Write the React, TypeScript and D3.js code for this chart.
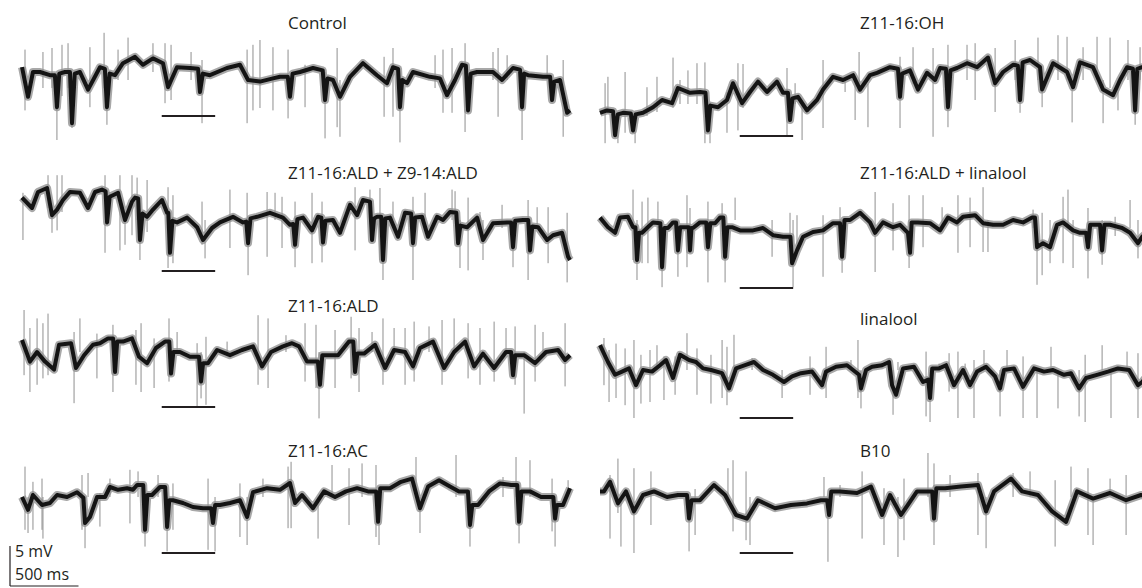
import React from "react";
import * as d3 from "d3";

const WIDTH = 1142;
const HEIGHT = 588;
const DURATION = 4000; // ms shown per sweep
const STIMULUS = [1020, 1410]; // ms, the stimulus bar under each sweep
const SCALE_MV = 5;
const SCALE_MS = 500;
const PX_PER_MS = 0.137;
const PX_PER_MV = 8;
const FONT = "'Open Sans', 'Noto Sans', sans-serif";
const INK = "#231f20";

type Pt = [number, number]; // [ms, mV]
type Spike = [number, number, number]; // [ms, top mV, bottom mV]

// slow membrane potential
const controlBase: Pt[] = [[0,1.6],[44,-2.1],[80,1.0],[131,1.0],[204,0.6],[240,0.6],[255,-3.4],[272,0.8],[314,1.0],[350,1.0],[365,-5.4],[385,0.8],[423,1.0],[482,-1.2],[569,1.6],[605,1.4],[620,-3.4],[640,0.8],[679,0.6],[737,2.1],[825,2.9],[883,1.9],[956,2.7],[1029,2.1],[1066,-0.9],[1131,1.6],[1226,1.5],[1285,1.4],[1299,-1.5],[1320,0.8],[1372,0.6],[1496,1.5],[1591,1.9],[1650,0],[1737,-0.2],[1832,0.2],[1883,0.4],[1940,0.4],[1956,-2.1],[1975,0.8],[2029,1.0],[2124,1.5],[2195,1.2],[2212,-2.5],[2230,0.2],[2270,0],[2321,-2.1],[2394,0.4],[2489,2.1],[2591,0.6],[2664,-0.4],[2708,1.6],[2745,1.4],[2759,-3.4],[2775,0],[2810,-0.4],[2854,1.0],[2978,0.4],[3051,0.2],[3102,-1.9],[3161,0],[3212,1.9],[3240,1.8],[3256,-3.8],[3275,0.8],[3321,1.0],[3438,1.0],[3504,0],[3584,1.5],[3635,1.3],[3650,-3.4],[3665,0.8],[3694,0.6],[3803,0.4],[3855,0.4],[3869,-2.5],[3885,-0.2],[3927,0],[3979,-4.1],[4000,-3.8]];
const controlSpikes: Spike[] = [[22,3.8,-3.8],[153,3.5,-1],[219,4.0,-1],[255,0,-7.5],[292,4.4,-2],[336,4.6,-1],[365,0,-6],[496,4.1,-3.4],[599,5.9,-1],[620,0,-5.6],[701,3.8,0],[774,5.3,0],[956,4.6,1],[1044,4.6,-2.9],[1088,4.4,-2.5],[1234,3.5,0],[1314,2.5,-5.4],[1643,3.8,-5.4],[1686,4.4,-3.8],[1737,5.0,-3.5],[1832,4.1,-3.8],[1942,3.8,-4.8],[2066,1.9,-3.4],[2212,1.0,-7.3],[2300,4.0,-5.9],[2321,0,-7.1],[2643,2.9,-4.6],[2708,4.0,-4.6],[2759,-2,-7.8],[3015,3.1,-1],[3073,3.8,-4.1],[3139,4.0,-4.1],[3234,4.6,-6.5],[3438,3.5,0],[3475,4.0,-4.6],[3541,3.1,0],[3650,-2,-7.5],[3833,3.1,0],[3950,2.5,-7.1]];

const ohBase: Pt[] = [[0,-4.1],[51,-3.8],[95,-3.9],[110,-6.9],[130,-4.3],[168,-4.1],[225,-4.2],[241,-6.3],[260,-4.3],[314,-4.1],[387,-3.4],[453,-2.5],[526,-2.9],[569,-1.0],[657,-1.6],[730,-1.5],[770,-1.6],[788,-6.3],[805,-3.2],[861,-3.4],[927,-2.5],[971,-0.4],[1037,-2.9],[1095,-1.5],[1153,-0.2],[1219,-1.5],[1292,-0.2],[1336,-1.6],[1372,-1.6],[1387,-5.0],[1405,-2.3],[1445,-2.1],[1511,-3.8],[1584,-2.5],[1628,-1.2],[1701,0.4],[1774,0],[1847,0.6],[1898,-1.2],[1971,0.6],[2022,0.9],[2117,1.6],[2175,1.4],[2190,-2.1],[2205,0.8],[2263,1.2],[2321,-1.2],[2387,0.9],[2446,0],[2482,1.5],[2525,1.4],[2540,-3.4],[2558,1.2],[2606,1.5],[2679,2.1],[2752,1.6],[2832,2.8],[2884,-0.4],[2942,1.0],[3015,1.9],[3050,1.8],[3066,-2.5],[3085,2.2],[3139,2.5],[3212,1.6],[3227,-1.2],[3307,2.1],[3409,1.0],[3453,-0.9],[3504,2.2],[3599,1.6],[3672,-1.2],[3745,-1.9],[3796,0],[3847,1.6],[3890,1.4],[3906,-3.8],[3922,1.4],[3957,1.6],[4000,1.2]];
const ohSpikes: Spike[] = [[37,-0.4,-7.9],[58,0.4,-4],[131,-4,-7.9],[183,1.0,-6.6],[256,-4,-7.9],[343,-0.9,-4.5],[416,0.4,-4],[533,2.8,-3.5],[584,0,-3],[642,1.2,-3],[708,2.1,-3],[766,2.2,-7.9],[803,-4,-7.9],[927,-1.5,-6.6],[1007,2.1,-6.3],[1044,2.0,-3.5],[1365,1.5,-7.1],[1424,-0.4,-3],[1475,-2.5,-7.5],[1628,2.5,-6.0],[1789,0.4,-1.5],[1862,-0.5,-5],[1891,3.5,-1.5],[1956,-0.5,-5.9],[2190,2.9,-6.0],[2285,4.1,-0.5],[2431,4.0,-7.1],[2540,4.4,-5.9],[2679,4.4,0],[2738,4.6,-2.5],[2884,4.0,-4.0],[3030,5.0,0],[3066,0,-4.1],[3197,5.3,0],[3227,0,-3.4],[3343,5.6,0],[3409,5.4,0],[3446,0,-5.3],[3526,4.1,0],[3628,5.4,0],[3672,0,-5.4],[3723,5.3,-1],[3781,0,-3.8],[3854,5.0,0],[3906,0,-5.6],[3942,4.1,0]];

const blendBase: Pt[] = [[0,2.8],[73,1.5],[117,3.5],[183,4.0],[219,0.6],[256,1.3],[299,2.5],[350,3.5],[423,3.4],[482,1.5],[533,3.5],[584,3.8],[610,3.6],[621,-0.3],[640,2.9],[664,3.1],[701,3.4],[752,0],[803,2.3],[825,2.8],[848,2.7],[861,-2.5],[880,0.8],[913,0.4],[956,1.3],[1022,2.5],[1059,0.9],[1068,0.9],[1080,-4.1],[1098,-0.1],[1132,-0.3],[1205,0.3],[1278,-0.9],[1321,-2.5],[1387,-1.0],[1445,-0.3],[1540,0.4],[1613,-0.3],[1637,-0.2],[1650,-2.9],[1668,0.2],[1716,0.4],[1810,0.9],[1905,0.3],[1956,-0.6],[1980,-0.5],[1993,-3.1],[2010,0.1],[2051,0.3],[2117,-1.3],[2161,0.4],[2185,0.3],[2197,-2.8],[2215,-0.1],[2270,0],[2321,-1.6],[2394,1.9],[2446,0.6],[2489,2.5],[2540,2.3],[2555,-2.5],[2570,0.2],[2592,0.4],[2622,0.4],[2635,-5.0],[2652,0.2],[2686,0.3],[2745,-2.1],[2796,0.9],[2840,0.8],[2854,-2.9],[2870,0.3],[2920,0.4],[2964,-2.1],[3030,0.4],[3073,0],[3124,1.0],[3170,0.9],[3183,-2.9],[3200,-0.7],[3249,-0.9],[3322,0.3],[3365,-2.5],[3438,-0.4],[3541,-0.3],[3570,-0.3],[3584,-3.4],[3600,-0.1],[3657,0],[3695,0],[3708,-3.8],[3725,-0.8],[3767,-0.9],[3833,-2.5],[3876,-1.9],[3942,-1.6],[3986,-4.6],[4000,-5.0]];
const blendSpikes: Spike[] = [[7,3.4,-2.5],[190,5.6,1.5],[219,1,-1.6],[256,5.6,-1.3],[292,5.6,1],[606,5.6,-4.1],[715,5.6,-3.8],[752,1,-3.1],[803,5.6,-1.9],[840,5.3,0],[861,0,-5.0],[913,5.0,-1.5],[1066,4.1,-6.0],[1102,3.1,-5.4],[1314,2.3,-3.1],[1336,0,-4.8],[1518,3.8,-3.5],[1643,3.4,-1],[1650,0,-6.9],[1789,3.5,-4.6],[1847,3.4,0],[1898,2.9,-3.5],[1993,2.3,-5.9],[2117,3.4,-5.4],[2190,2.3,-5.3],[2431,4.1,-3.8],[2540,3.8,0],[2613,4.0,-5.0],[2635,0,-7.5],[2708,2.3,0],[2854,2.9,-7.5],[2942,3.4,0],[3139,3.8,0],[3161,3.6,0],[3197,0,-6.0],[3256,2.8,-6.3],[3343,1.0,-1.5],[3365,0,-5.0],[3504,1.9,-1],[3584,0,-5.9],[3694,2.5,-7.5],[3760,1.6,-1],[3840,1.6,-5.4],[3979,0.9,-7.8]];

const aldLinBase: Pt[] = [[0,0.3],[58,-0.9],[110,-1.6],[146,0.3],[204,0.4],[241,-0.9],[258,-0.9],[270,-5.0],[285,-1.6],[307,-1.6],[343,-1.0],[387,-0.3],[440,-0.4],[453,-5.9],[470,-1.0],[496,-1.0],[533,-0.3],[555,-0.3],[569,-3.8],[585,-0.9],[635,-0.9],[648,-0.9],[657,-3.8],[668,-1.0],[679,-1.0],[730,-0.3],[775,-0.3],[788,-3.4],[805,-0.4],[840,-0.4],[876,0.3],[900,0.3],[913,-4.6],[930,-0.9],[964,-0.9],[1022,-1.3],[1117,-1.3],[1190,-1.0],[1263,-1.9],[1336,-2.1],[1390,-2.1],[1402,-5.4],[1438,-3.8],[1482,-2.1],[1555,-1.5],[1628,-1.3],[1701,-0.4],[1752,-0.4],[1767,-4.6],[1785,0],[1825,0],[1898,0.9],[1971,-0.3],[2008,-1.6],[2066,-0.3],[2139,-0.9],[2190,-0.6],[2248,-1.6],[2263,-4.1],[2275,-0.3],[2321,-0.3],[2409,-0.4],[2482,-1.3],[2540,0.3],[2606,-0.3],[2650,0.4],[2738,0.6],[2796,-0.4],[2869,-0.6],[2942,-0.6],[3015,0],[3088,-0.3],[3154,0.3],[3175,0.3],[3190,-3.4],[3234,-2.9],[3285,-3.4],[3336,-0.6],[3380,-0.3],[3453,-1.3],[3504,-1.6],[3548,-1.6],[3562,-3.4],[3578,-0.6],[3599,-0.6],[3650,-0.6],[3665,-3.8],[3682,-0.6],[3723,-0.6],[3811,-1.0],[3869,-1.6],[3927,-2.9],[3957,-2.1],[4000,-1.5]];
const aldLinSpikes: Spike[] = [[241,3.8,-5.0],[270,0,-7.5],[307,2.3,-5.4],[350,2.8,-5.4],[423,2.3,-1],[453,0,-8.4],[569,0,-7.1],[635,3.1,-5.9],[657,1.5,-1],[788,2.3,-7.8],[891,2.1,0],[913,0,-7.8],[986,2.8,0],[1256,0,-4.6],[1387,0.9,-2],[1409,0,-8.4],[1438,0.6,-3],[1628,0.6,-7.1],[1752,1.6,-1],[1767,0,-6.6],[2008,3.5,-6.5],[2139,2.1,-3.8],[2256,3.1,-6.0],[2358,3.1,-3.4],[2497,1.6,-1],[2613,3.1,-4.1],[2701,2.8,-3.4],[2796,4.1,-4.0],[2832,0,-4.0],[3161,1.3,-1],[3190,0,-8.1],[3227,0.9,-6.9],[3285,0,-5.4],[3380,2.9,-5.4],[3416,3.8,-1],[3453,0,-6.0],[3562,1.5,-7.3],[3665,0,-5.6],[3760,0.4,-2],[3869,2.5,-1],[3927,0,-4.8]];

const aldBase: Pt[] = [[0,1.5],[58,-1.2],[110,0],[168,-1.2],[234,-2.2],[270,0.9],[358,1.1],[394,-2.0],[453,-0.4],[518,0.9],[569,1.1],[628,1.7],[665,1.7],[679,-2.5],[695,1.3],[737,1.3],[803,1.7],[854,-0.6],[913,-1.4],[978,0.5],[1044,1.3],[1075,1.3],[1088,-2.7],[1105,0],[1153,0],[1226,-0.6],[1292,-0.6],[1307,-3.7],[1322,-1.4],[1358,-1.4],[1424,0.25],[1518,-0.4],[1606,0.25],[1686,0.7],[1752,-1.8],[1818,0],[1905,0.7],[1971,1.1],[2022,0.7],[2081,-1.2],[2160,-1.2],[2175,-4.1],[2192,-0.4],[2227,-0.4],[2307,-0.4],[2387,1.3],[2418,1.3],[2431,-2.5],[2448,-0.2],[2497,-0.2],[2577,0.9],[2650,-2.0],[2716,0.25],[2796,0],[2854,-1.8],[2905,0.5],[3000,1.3],[3081,-2.0],[3154,0],[3234,1.3],[3300,-1.8],[3365,-0.2],[3446,-2.0],[3533,0],[3570,0],[3584,-2.9],[3600,-0.4],[3665,-0.4],[3745,-1.4],[3825,0],[3913,0.25],[3964,-1.0],[4000,-0.4]];
const aldSpikes: Spike[] = [[15,5.25,-2.9],[58,3.0,-5.0],[110,4.2,-4.1],[153,3.6,-3.3],[190,4.8,-2.9],[380,2.5,-6.4],[423,4.2,0],[547,2.3,-3.3],[664,3.4,-5.0],[832,2.75,-4.1],[869,3.6,-5.0],[964,1.7,-4.5],[1073,4.2,-3.7],[1132,2.5,0],[1278,1.1,-6.8],[1307,0,-5.8],[1343,1.9,-6.6],[1497,1.3,0],[1723,4.6,-4.1],[1796,4.2,-4.5],[1927,2.1,0],[2066,3.6,-3.7],[2146,3.4,-4.5],[2168,0,-8.3],[2285,2.75,-4.5],[2402,4.4,-3.3],[2460,3.0,-5.0],[2555,2.5,0],[2635,4.2,-4.1],[2716,3.0,0],[2796,3.0,-4.1],[2862,3.8,-3.7],[2971,3.2,0],[3066,4.0,-4.1],[3154,4.2,0],[3256,3.6,-3.3],[3343,3.0,-4.1],[3446,3.8,-3.7],[3533,3.0,0],[3599,3.2,-4.1],[3665,0,-7.7],[3745,3.4,-3.7],[3803,2.5,0],[3964,3.6,-4.3]];

const linaloolBase: Pt[] = [[0,3.1],[58,1.0],[110,-0.6],[161,-0.2],[212,0.2],[263,-1.9],[314,0],[380,-0.2],[438,0.6],[482,1.25],[533,-1.0],[584,1.9],[650,1.25],[701,1.0],[752,0.2],[810,0],[891,-0.4],[942,-2.3],[993,0.2],[1059,0.6],[1124,1.0],[1190,0],[1263,-0.6],[1343,-1.5],[1402,-0.8],[1467,-0.4],[1548,-0.2],[1621,-1.9],[1650,-0.2],[1723,0.4],[1803,0.6],[1891,-0.6],[1905,-2.3],[1942,0],[1986,0.4],[2059,0.6],[2110,1.0],[2132,-1.9],[2161,-3.1],[2212,0.2],[2292,0.4],[2358,-1.5],[2396,-1.2],[2409,-3.5],[2425,0.2],[2475,0.2],[2526,0.6],[2584,-1.9],[2650,0],[2701,-1.9],[2752,-0.2],[2818,0.4],[2884,-0.8],[2920,-2.3],[2949,0],[3022,0.2],[3088,-2.1],[3168,0.2],[3241,-0.2],[3307,0],[3387,-0.6],[3438,-0.4],[3497,-2.3],[3548,-1.0],[3628,-0.6],[3708,-0.2],[3781,0.2],[3862,0],[3927,-1.9],[3957,-1.5],[4000,-0.6]];
const linaloolSpikes: Spike[] = [[29,4.0,-1.9],[66,2.5,-4.0],[117,3.3,-3.5],[183,2.7,-4.4],[248,3.75,-6.0],[299,1.9,-4.2],[365,2.5,-4.0],[416,3.1,0],[467,1.7,-3.75],[548,1.7,-3.1],[635,4.6,0],[708,2.7,-3.1],[810,1.9,-4.2],[891,3.75,-3.5],[927,2.9,-4.4],[978,4.4,0],[1110,1.5,0],[1329,0,-3.5],[1533,1.7,-3.1],[1650,2.9,-3.5],[1832,1.25,0],[1883,3.75,-3.5],[1905,0,-4.8],[2139,0,-5.6],[2175,1.0,0],[2292,0.6,0],[2380,2.3,-5.8],[2409,0,-6.5],[2475,0.8,0],[2548,2.1,-2.7],[2613,2.3,-6.0],[2665,0.8,0],[2730,1.25,-6.0],[2803,2.5,0],[2920,0,-5.8],[2971,2.5,0],[3088,1.7,-6.0],[3190,0,-6.0],[3292,2.9,0],[3343,0,-4.8],[3497,0,-5.8],[3541,1.9,-6.5],[3665,3.1,0],[3730,0,-6.0],[3847,2.3,0],[3927,2.1,-6.0]];

const acBase: Pt[] = [[0,0],[44,-1.6],[80,0.25],[146,-1.0],[204,-0.75],[256,0.25],[329,0],[402,0.6],[448,-0.1],[460,-3.25],[496,-2.5],[548,0],[606,0],[642,1.25],[701,0.9],[767,1.1],[810,0.9],[840,1.5],[885,1.5],[898,-4.1],[915,0.25],[949,0.25],[1007,1.25],[1045,1.25],[1059,-3.75],[1075,-0.4],[1102,-0.4],[1175,-0.75],[1248,-1.25],[1321,-1.4],[1380,-1.4],[1394,-3.25],[1410,-1.0],[1445,-1.0],[1518,-0.75],[1591,-0.4],[1643,-2.5],[1686,0.6],[1789,1.1],[1883,0.9],[1956,1.75],[1993,-0.75],[2044,0.25],[2124,-1.4],[2205,0.7],[2285,0],[2365,0.7],[2446,1.1],[2526,0.7],[2585,0.7],[2599,-3.1],[2615,1.1],[2686,1.1],[2767,1.9],[2847,2.3],[2905,-1.4],[2964,1.3],[3044,2.1],[3124,1.3],[3190,0.7],[3255,0.7],[3270,-3.5],[3287,-1.0],[3329,-1.0],[3409,0.7],[3489,1.7],[3570,1.5],[3615,1.5],[3628,-3.1],[3645,0.7],[3708,0.7],[3789,0],[3878,0],[3891,-2.7],[3905,-1.0],[3949,-1.0],[4000,1.1]];
const acSpikes: Spike[] = [[22,3.8,-4.1],[44,0,-4.5],[80,1.9,-4.1],[146,2.3,-4.1],[153,0,-5.2],[438,2.75,-4.1],[460,0,-6.4],[482,3.0,0],[569,0.5,-3.7],[642,2.3,0],[788,3.4,-3.3],[847,3.2,0],[898,0,-6.2],[993,2.75,0],[1059,0,-6.8],[1102,1.7,-4.1],[1358,2.3,-6.6],[1409,0,-6.8],[1591,1.7,-5.0],[1643,0,-6.0],[1759,2.3,0],[1942,3.8,-3.9],[1964,4.4,-3.9],[2161,0,-5.2],[2263,4.0,0],[2387,3.6,-3.5],[2482,4.2,0],[2584,4.0,-5.0],[2606,0,-6.0],[2876,5.0,0],[2905,0,-4.5],[3168,5.25,0],[3270,0,-6.2],[3511,2.5,0],[3606,5.0,0],[3628,0,-5.8],[3708,4.6,0],[3869,2.3,-4.3],[3891,0,-6.2],[3986,2.1,0]];

const b10Base: Pt[] = [[0,0.7],[29,0.7],[73,1.9],[131,-0.8],[190,0.7],[248,-1.8],[314,0.25],[394,0.7],[489,0],[569,0.25],[635,0.25],[650,-2.7],[668,-0.4],[730,-0.4],[832,1.5],[913,0.25],[993,-2.25],[1073,-2.7],[1153,-0.4],[1278,-1.4],[1394,-1.0],[1511,-0.8],[1613,-0.4],[1658,-0.4],[1672,-2.25],[1688,0.7],[1752,0.7],[1876,0.5],[1978,1.3],[2059,-2.25],[2117,0.25],[2197,-2.25],[2314,0.7],[2425,0.7],[2438,-2.7],[2455,1.1],[2519,1.1],[2635,1.3],[2759,1.5],[2818,-1.8],[2876,0.7],[3000,2.3],[3081,0.7],[3197,0.25],[3300,-1.8],[3402,-3.1],[3482,0.7],[3599,-0.2],[3723,0.5],[3840,-0.4],[3949,0.25],[4000,0]];
const b10Spikes: Spike[] = [[73,2.75,-5.2],[131,4.8,-2],[153,0,-6.2],[248,3.6,-7.0],[372,3.2,-3.5],[650,0,-6.8],[694,1,-4.75],[934,3.6,0],[971,4.6,-4.3],[1066,3.2,-5.4],[1095,0,-6.0],[1635,2.5,0],[1664,0,-8.1],[1752,1.5,0],[1913,3.2,-5.2],[2073,1.1,-6.0],[2175,0,-7.5],[2219,2.3,-5.4],[2394,5.5,0],[2438,4.2,-6.0],[2555,2.75,0],[2759,3.0,-4.75],[2818,0,-6.4],[3015,3.0,0],[3139,3.2,0],[3322,2.1,-6.2],[3438,3.8,0],[3562,3.6,-4.75],[3599,0,-6.0],[3723,2.3,0],[3840,2.75,-4.75]];

interface Panel {
  title: string;
  base: Pt[];
  spikes: Spike[];
  x0: number;
  cy: number;
  tx: number;
  ty: number;
  barY: number;
}

const panels: Panel[] = [
  { title: "Control", base: controlBase, spikes: controlSpikes, x0: 22, cy: 80, tx: 288, ty: 29, barY: 116 },
  { title: "Z11-16:OH", base: ohBase, spikes: ohSpikes, x0: 600, cy: 80, tx: 860, ty: 29, barY: 136 },
  { title: "Z11-16:ALD + Z9-14:ALD", base: blendBase, spikes: blendSpikes, x0: 22, cy: 220, tx: 288, ty: 179, barY: 271 },
  { title: "Z11-16:ALD + linalool", base: aldLinBase, spikes: aldLinSpikes, x0: 600, cy: 220, tx: 860, ty: 179, barY: 288 },
  { title: "Z11-16:ALD", base: aldBase, spikes: aldSpikes, x0: 22, cy: 352, tx: 288, ty: 312, barY: 407 },
  { title: "linalool", base: linaloolBase, spikes: linaloolSpikes, x0: 600, cy: 370, tx: 860, ty: 325, barY: 418 },
  { title: "Z11-16:AC", base: acBase, spikes: acSpikes, x0: 22, cy: 497, tx: 288, ty: 457, barY: 553 },
  { title: "B10", base: b10Base, spikes: b10Spikes, x0: 600, cy: 497, tx: 860, ty: 457, barY: 553 },
];

function Trace({ p }: { p: Panel }) {
  const x = d3.scaleLinear().domain([0, DURATION]).range([p.x0, p.x0 + DURATION * PX_PER_MS]);
  const y = d3.scaleLinear().domain([-1, 1]).range([p.cy + PX_PER_MV, p.cy - PX_PER_MV]);
  const line = d3.line<Pt>().x((d) => x(d[0])).y((d) => y(d[1]));
  const path = line(p.base) || "";

  return (
    <g>
      <path d={path} fill="none" stroke="#a8a8a8" strokeWidth={8} strokeLinejoin="round" />
      {p.spikes.map((s, i) => (
        <line key={i} x1={x(s[0])} x2={x(s[0])} y1={y(s[1])} y2={y(s[2])} stroke="#8f8f8f" strokeWidth={1} />
      ))}
      <path d={path} fill="none" stroke="#141414" strokeWidth={4} strokeLinejoin="round" />
      <line x1={x(STIMULUS[0])} x2={x(STIMULUS[1])} y1={p.barY} y2={p.barY} stroke={INK} strokeWidth={2} />
      <text x={p.tx} y={p.ty} fontSize={17} fontFamily={FONT} fill={INK}>
        {p.title}
      </text>
    </g>
  );
}

export default function App() {
  const barLen = SCALE_MS * PX_PER_MS;
  const barH = SCALE_MV * PX_PER_MV;
  const sx = 10;
  const sy = 586;
  return (
    <svg
      width={WIDTH}
      height={HEIGHT}
      style={{ position: "absolute", left: 0, top: 0, background: "#fff" }}
    >
      {panels.map((p) => (
        <Trace key={p.title} p={p} />
      ))}
      <g stroke={INK} strokeWidth={1.2} fill="none">
        <line x1={sx} x2={sx} y1={sy - barH} y2={sy} />
        <line x1={sx} x2={sx + barLen} y1={sy} y2={sy} />
      </g>
      <text x={15} y={557} fontSize={16} fontFamily={FONT} fill={INK}>5 mV</text>
      <text x={15} y={580} fontSize={16} fontFamily={FONT} fill={INK}>500 ms</text>
    </svg>
  );
}
